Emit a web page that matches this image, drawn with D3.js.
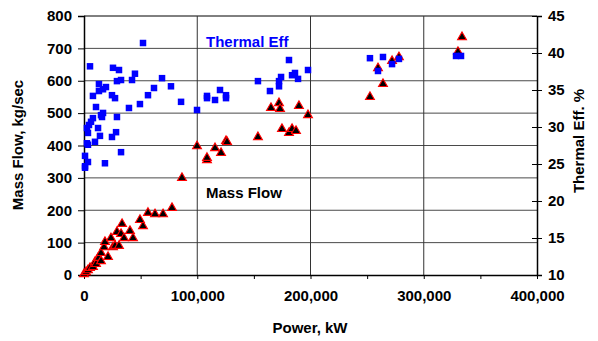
<!DOCTYPE html>
<html lang="en">
<head>
    <meta charset="UTF-8">
    <title>Mass Flow and Thermal Eff vs Power</title>
    <script src="https://cdnjs.cloudflare.com/ajax/libs/d3/7.6.1/d3.min.js"></script>
    <style>
        body { margin: 0; background: #fff; }
        svg text { font-family: "Liberation Sans", Arial, sans-serif; font-weight: bold; }
    </style>
</head>
<body>
    <div id="svgBox"></div>
    <script>
        // mass flow series (power kW, kg/sec)
        var mfPower = [0, 1800, 3500, 5300, 7900, 9700, 10600, 12400, 13000, 15000, 15000, 17700,
                       18500, 21200, 23800, 25600, 27400, 30900, 29100, 32700, 35300, 33600, 40600,
                       43300, 52100, 49400, 56500, 62700, 69800, 77700, 86500, 99800, 108600, 108600,
                       115700, 121000, 125400, 126300, 153600, 165100, 172200, 173100, 174800, 181000,
                       183700, 187200, 189800, 197800, 252500, 264000, 259600, 272000, 278100, 330200, 333800];
        var massFlow = [3, 9, 15, 22, 25, 40, 34, 53, 53, 68, 43, 86,
                        102, 56, 114, 86, 90, 90, 133, 127, 114, 158, 136,
                        114, 151, 170, 192, 188, 188, 207, 300, 398, 355, 362,
                        392, 377, 414, 411, 426, 516, 531, 513, 451, 439,
                        451, 445, 522, 494, 550, 590, 639, 661, 673, 689, 735];

        // thermal efficiency series (power kW, %)
        var effPower = [52100, 5300, 25600, 30900, 45000, 42400, 29100, 32700, 68900, 61800, 76800,
                        56500, 49400, 39700, 85700, 99800, 13200, 13200, 19400, 16800, 7900, 24700,
                        27400, 10600, 16800, 15000, 15900, 29100, 7900, 6200, 4400, 2600, 12400, 3500,
                        28300, 24700, 14100, 9700, 2600, 3500, 32700, 18500, 900, 3500, 900, 900,
                        108600, 108600, 115700, 120100, 125400, 125400, 153600, 164200, 172200, 174000,
                        172200, 181000, 183700, 186300, 189000, 197800, 252500, 264000, 272000, 278100,
                        259600, 328500, 332900];
        var thermalEff = [41.35, 38.2, 38.0, 37.7, 37.2, 36.35, 36.2, 36.35, 36.6, 35.27, 35.5,
                          34.3, 33.1, 32.57, 33.4, 32.3, 35.8, 34.86, 35.4, 35.1, 34.2, 34.3,
                          33.9, 32.7, 31.9, 31.6, 31.35, 31.35, 31.2, 30.7, 30.27, 29.86, 29.86, 29.2,
                          29.3, 28.65, 28.8, 28.0, 27.8, 27.6, 26.6, 25.1, 26.1, 25.27, 24.7, 24.5,
                          34.2, 33.9, 33.65, 35.0, 34.3, 33.9, 36.2, 34.86, 36.2, 36.76,
                          35.5, 39.05, 37.0, 37.3, 36.5, 37.7, 39.3, 39.46, 38.5, 39.2,
                          37.57, 39.6, 39.6];

        var leftTicks = [0, 100, 200, 300, 400, 500, 600, 700, 800];
        var rightTicks = [10, 15, 20, 25, 30, 35, 40, 45];
        var xTicks = [0, 100000, 200000, 300000, 400000];
        var xMinorTicks = [50000, 150000, 250000, 350000];

        var w = 598,
            h = 341,
            svg = d3.select('#svgBox')
                    .append('svg')
                    .attr('width', w)
                    .attr('height', h);

        var xScale = d3.scaleLinear().domain([0, 400000]).range([84, 537]);
        var yLeft = d3.scaleLinear().domain([0, 800]).range([275, 16]);
        var yRight = d3.scaleLinear().domain([10, 45]).range([275, 16]);

        // GRID
        svg.append('g')
            .selectAll('line')
            .data(leftTicks.slice(1))
            .enter()
            .append('line')
            .attr('x1', 84).attr('x2', 537)
            .attr('y1', (d) => yLeft(d)).attr('y2', (d) => yLeft(d))
            .attr('stroke', (d) => d === 800 ? '#000' : '#4a4a4a')
            .attr('stroke-width', 1);
        svg.append('g')
            .selectAll('line')
            .data(xTicks.slice(1, 4))
            .enter()
            .append('line')
            .attr('x1', (d) => xScale(d)).attr('x2', (d) => xScale(d))
            .attr('y1', 16).attr('y2', 275)
            .attr('stroke', '#333')
            .attr('stroke-width', 1);

        // X-AXIS
        var xAxis = d3.axisBottom(xScale)
                      .tickValues(xTicks)
                      .tickSize(0)
                      .tickPadding(15)
                      .tickFormat(d3.format(','));
        svg.append('g')
            .attr('transform', 'translate(0,275)')
            .call(xAxis)
            .call((g) => g.select('.domain').attr('stroke', '#000').attr('stroke-width', 1.5))
            .style('font-size', '15px');
        svg.append('g')
            .attr('transform', 'translate(0,275)')
            .call(d3.axisBottom(xScale).tickValues(xTicks.concat(xMinorTicks)).tickSize(4).tickFormat(''))
            .call((g) => g.select('.domain').remove());

        // LEFT Y-AXIS
        var yAxisL = d3.axisLeft(yLeft).tickValues(leftTicks).tickSize(6).tickPadding(6);
        svg.append('g')
            .attr('transform', 'translate(84,0)')
            .call(yAxisL)
            .call((g) => g.select('.domain').attr('stroke-width', 1.5))
            .style('font-size', '15px');

        // RIGHT Y-AXIS (cross ticks)
        var yAxisR = d3.axisRight(yRight).tickValues(rightTicks).tickSize(5).tickPadding(6);
        var gR = svg.append('g')
            .attr('transform', 'translate(537,0)')
            .call(yAxisR)
            .call((g) => g.select('.domain').attr('stroke-width', 1.5))
            .style('font-size', '15px');
        gR.selectAll('.tick line').attr('x1', -5);

        svg.selectAll('.tick text').attr('fill', '#000');

        // MASS FLOW TRIANGLES
        var tri = d3.symbol().type(d3.symbolTriangle).size(34);
        svg.append('g')
            .selectAll('path')
            .data(mfPower)
            .enter()
            .append('path')
            .attr('d', tri)
            .attr('transform', (d, i) => 'translate(' + xScale(d) + ',' + yLeft(massFlow[i]) + ')')
            .attr('fill', '#000')
            .attr('stroke', '#ff0000')
            .attr('stroke-width', 1.1);

        // THERMAL EFF SQUARES
        svg.append('g')
            .selectAll('rect')
            .data(effPower)
            .enter()
            .append('rect')
            .attr('x', (d) => xScale(d) - 3.25)
            .attr('y', (d, i) => yRight(thermalEff[i]) - 3.25)
            .attr('width', 6.5)
            .attr('height', 6.5)
            .attr('fill', '#0000ff');

        // LABELS
        svg.append('text')
            .attr('x', 206).attr('y', 47)
            .text('Thermal Eff')
            .style('font-size', '15px')
            .attr('fill', '#0000ff');
        svg.append('text')
            .attr('x', 206).attr('y', 198)
            .text('Mass Flow')
            .style('font-size', '15px')
            .attr('fill', '#000');
        svg.append('text')
            .attr('transform', 'translate(23,145) rotate(-90)')
            .attr('text-anchor', 'middle')
            .text('Mass Flow, kg/sec')
            .style('font-size', '15px');
        svg.append('text')
            .attr('transform', 'translate(584,141) rotate(-90)')
            .attr('text-anchor', 'middle')
            .text('Thermal Eff. %')
            .style('font-size', '15px');
        svg.append('text')
            .attr('x', 310).attr('y', 333)
            .attr('text-anchor', 'middle')
            .text('Power, kW')
            .style('font-size', '15px');
    </script>
</body>
</html>
